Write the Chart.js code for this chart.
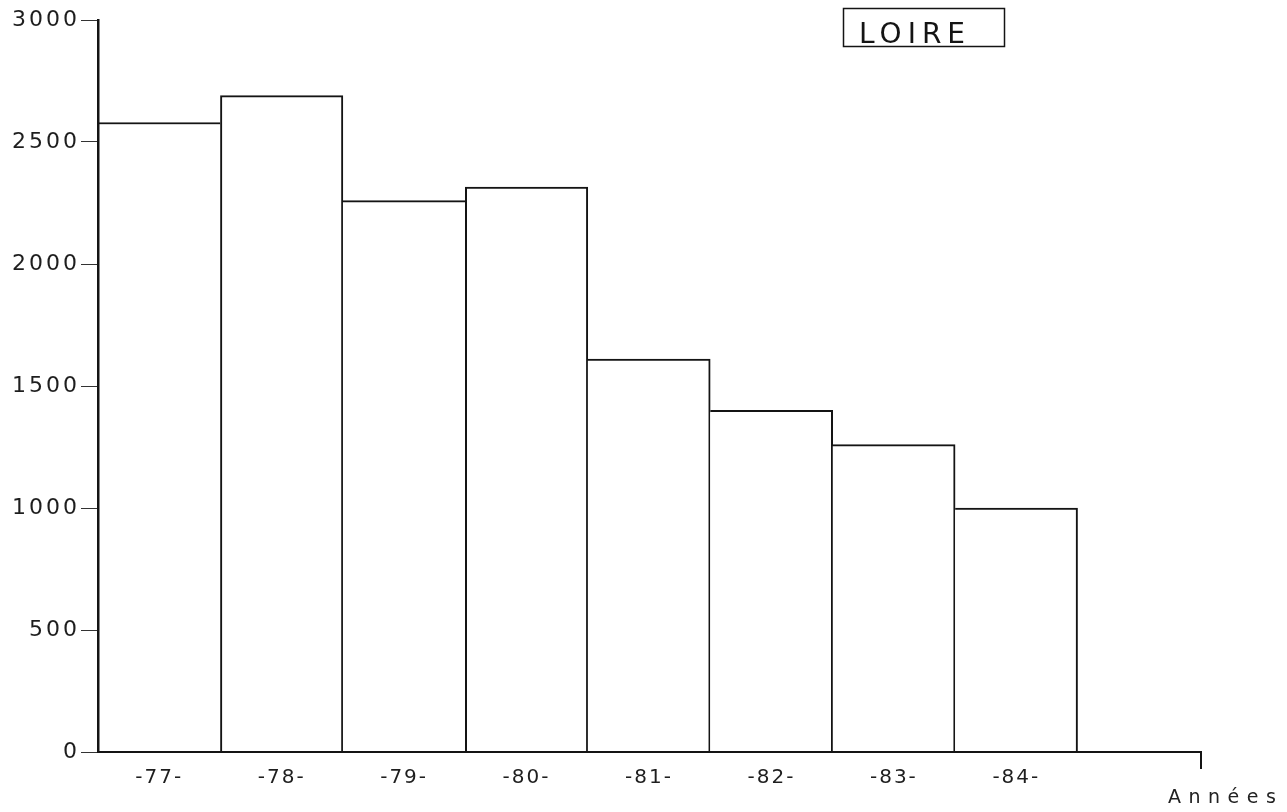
<!DOCTYPE html>
<html>
<head>
<meta charset="utf-8">
<script src="https://cdn.jsdelivr.net/npm/chart.js@4.4.1/dist/chart.umd.min.js"></script>
<style>
  html, body { margin: 0; padding: 0; background: #ffffff; }
  #wrap { width: 1287px; height: 812px; }
</style>
</head>
<body>
<div id="wrap"><canvas id="c" width="1287" height="812"></canvas></div>
<script>
// ---- data ----
const categories = ['-77-', '-78-', '-79-', '-80-', '-81-', '-82-', '-83-', '-84-', ''];
const values = [2580, 2690, 2260, 2315, 1610, 1400, 1260, 1000, null];
const yTicks = [0, 500, 1000, 1500, 2000, 2500, 3000];
const titleText = 'LOIRE';
const axisLabel = 'Années';

const INK = '#141414';
const LINE = 2;

// border per bar: shared edges drawn once, by the taller bar; first edge is the y axis
function borderFor(i) {
  const v = values[i];
  if (v === null) return 0;
  const prev = i > 0 ? values[i - 1] : null;
  const next = i < values.length - 1 ? values[i + 1] : null;
  return {
    top: LINE,
    bottom: 0,
    left: (i === 0) ? 0 : ((prev === null || v >= prev) ? LINE : 0),
    right: (next === null || v > next) ? LINE : 0
  };
}

const decor = {
  id: 'decor',
  beforeDraw(chart) {
    const ctx = chart.ctx;
    ctx.save();
    ctx.fillStyle = '#ffffff';
    ctx.fillRect(0, 0, chart.width, chart.height);
    ctx.restore();
    ctx.letterSpacing = '2px';      // x labels (drawn before datasets)
  },
  afterDatasetsDraw(chart) {
    chart.ctx.letterSpacing = '3px'; // y labels (drawn after datasets, z = 1)
  },
  afterDraw(chart) {
    const ctx = chart.ctx;
    const a = chart.chartArea;
    ctx.save();
    // end tick of x axis
    ctx.strokeStyle = INK;
    ctx.lineWidth = LINE;
    ctx.beginPath();
    ctx.moveTo(a.right + 1, a.bottom - 1);
    ctx.lineTo(a.right + 1, a.bottom + 17);
    ctx.stroke();

    // title box
    ctx.lineWidth = 1.5;
    ctx.strokeRect(843.5, 8.5, 161, 38);
    ctx.fillStyle = INK;
    ctx.font = '28px "DejaVu Sans"';
    ctx.letterSpacing = '6px';
    ctx.textAlign = 'left';
    ctx.textBaseline = 'alphabetic';
    ctx.fillText(titleText, 859, 43);

    // axis name
    ctx.font = '19px "DejaVu Sans"';
    ctx.letterSpacing = '7.5px';
    ctx.fillStyle = '#222';
    ctx.fillText(axisLabel, 1168, 803);
    ctx.restore();
    ctx.letterSpacing = '2px';
  }
};

new Chart(document.getElementById('c'), {
  type: 'bar',
  data: {
    labels: categories,
    datasets: [{
      data: values,
      backgroundColor: '#ffffff',
      borderColor: INK,
      borderWidth: (c) => borderFor(c.dataIndex),
      borderSkipped: false,
      barPercentage: 1,
      categoryPercentage: 1
    }]
  },
  options: {
    responsive: false,
    animation: false,
    devicePixelRatio: 1,
    layout: { padding: { left: 0, top: 20, right: 87, bottom: 0 } },
    plugins: { legend: { display: false }, tooltip: { enabled: false }, title: { display: false } },
    scales: {
      x: {
        offset: true,
        grid: { display: false, drawTicks: false },
        border: { display: true, color: INK, width: LINE, z: 1 },
        ticks: {
          color: '#1e1e1e',
          font: { family: '"DejaVu Sans"', size: 20 },
          padding: 14,
          maxRotation: 0,
          autoSkip: false
        },
        afterFit(s) { s.height = 60; }
      },
      y: {
        min: 0,
        max: 3000,
        afterBuildTicks(s) { s.ticks = yTicks.map(v => ({ value: v })); },
        grid: { display: true, drawOnChartArea: false, drawTicks: true, tickLength: 17, color: '#333', lineWidth: 1 },
        border: { display: true, color: INK, width: 2.5, z: 1 },
        ticks: {
          z: 1,
          color: '#1e1e1e',
          font: { family: '"DejaVu Sans"', size: 22 },
          padding: 1,
          callback: (v) => String(v)
        },
        afterFit(s) { s.width = 98; }
      }
    }
  },
  plugins: [decor]
});
</script>
</body>
</html>
